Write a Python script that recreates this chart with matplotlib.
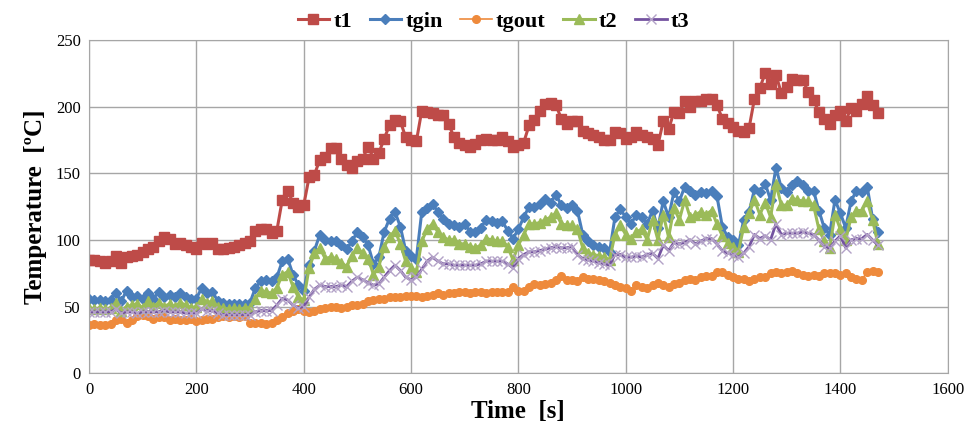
import numpy as np
import matplotlib.pyplot as plt

# time axis, one sample every 10 s
time_s = np.arange(0, 1480, 10)

t1 = [85, 85, 84, 83, 84, 88, 83, 87, 88, 89, 91, 93, 95, 99, 102, 101, 97, 98, 96, 95,
      93, 98, 97, 98, 93, 93, 94, 95, 96, 98, 99, 107, 108, 108, 105, 107, 130, 137, 128, 125,
      126, 147, 149, 160, 162, 169, 169, 161, 156, 154, 159, 161, 170, 161, 165, 176, 186, 190, 189, 177,
      175, 174, 197, 196, 195, 194, 194, 187, 177, 173, 171, 170, 172, 175, 176, 175, 175, 177, 174, 170,
      171, 173, 186, 190, 197, 202, 203, 201, 191, 187, 189, 189, 182, 180, 179, 177, 175, 175, 181, 180,
      176, 177, 181, 179, 177, 176, 171, 189, 183, 196, 195, 204, 200, 204, 204, 206, 206, 201, 191, 188,
      185, 182, 181, 184, 206, 214, 225, 217, 224, 210, 215, 221, 220, 220, 211, 205, 196, 191, 187, 194,
      197, 189, 199, 197, 202, 208, 201, 195]

tgin = [56, 55, 55, 54, 55, 60, 54, 62, 57, 58, 56, 60, 56, 61, 57, 59, 57, 60, 57, 56,
        56, 64, 60, 61, 54, 53, 52, 52, 52, 52, 53, 64, 69, 70, 69, 72, 84, 86, 74, 66,
        62, 81, 92, 104, 100, 99, 99, 96, 93, 99, 106, 102, 96, 82, 87, 106, 116, 121, 110, 92,
        88, 86, 121, 124, 127, 121, 116, 112, 111, 110, 112, 106, 106, 109, 115, 114, 113, 114, 107, 101,
        108, 117, 125, 125, 127, 131, 128, 134, 126, 124, 126, 122, 104, 99, 96, 95, 94, 91, 117, 123,
        117, 112, 119, 117, 112, 122, 109, 129, 117, 136, 129, 140, 137, 134, 136, 135, 137, 133, 110, 102,
        100, 96, 115, 121, 138, 136, 142, 130, 154, 139, 136, 141, 144, 141, 137, 137, 122, 109, 104, 130,
        120, 109, 129, 137, 136, 140, 116, 106]

tgout = [36, 37, 36, 36, 37, 40, 41, 38, 40, 43, 44, 43, 41, 42, 42, 40, 41, 40, 40, 41,
         39, 40, 41, 41, 42, 43, 42, 43, 42, 43, 38, 38, 38, 37, 38, 40, 42, 45, 47, 48,
         47, 46, 47, 48, 49, 50, 50, 49, 50, 51, 51, 52, 54, 55, 56, 56, 57, 57, 57, 58,
         58, 58, 57, 58, 59, 60, 59, 60, 60, 61, 61, 60, 61, 61, 60, 61, 61, 61, 61, 65,
         62, 62, 65, 67, 66, 67, 68, 70, 73, 70, 70, 69, 72, 71, 71, 70, 69, 68, 66, 65,
         64, 62, 66, 65, 64, 66, 68, 66, 65, 67, 68, 70, 71, 70, 72, 73, 73, 76, 76, 74,
         72, 71, 71, 69, 71, 72, 72, 75, 76, 75, 76, 77, 75, 74, 73, 74, 73, 75, 75, 75,
         74, 75, 72, 71, 70, 76, 77, 76]

t2 = [49, 48, 49, 48, 49, 53, 47, 50, 51, 52, 49, 54, 50, 53, 50, 52, 50, 53, 51, 49,
      50, 56, 53, 54, 50, 49, 48, 49, 48, 49, 49, 56, 62, 61, 60, 64, 74, 76, 65, 57,
      55, 79, 90, 94, 86, 87, 86, 83, 80, 88, 94, 90, 86, 74, 80, 95, 102, 107, 97, 84,
      79, 76, 99, 108, 112, 106, 102, 100, 100, 97, 97, 95, 94, 96, 101, 100, 99, 99, 95, 85,
      96, 104, 112, 112, 113, 115, 117, 120, 112, 111, 111, 108, 94, 90, 89, 88, 87, 85, 104, 111,
      104, 101, 106, 108, 100, 115, 100, 119, 102, 124, 115, 130, 117, 119, 121, 119, 122, 112, 103, 98,
      95, 91, 110, 120, 130, 119, 128, 117, 142, 126, 126, 131, 130, 129, 129, 126, 108, 99, 94, 119,
      108, 100, 117, 122, 122, 129, 115, 97]

t3 = [46, 46, 46, 46, 46, 48, 45, 46, 46, 45, 46, 46, 46, 46, 47, 46, 46, 46, 45, 45,
      45, 48, 47, 47, 45, 44, 44, 44, 44, 44, 44, 46, 47, 47, 47, 51, 56, 55, 51, 49,
      50, 57, 63, 66, 65, 65, 65, 66, 65, 69, 72, 70, 68, 66, 67, 72, 77, 81, 77, 72,
      70, 72, 78, 84, 87, 84, 82, 82, 81, 81, 81, 81, 81, 82, 84, 84, 84, 84, 82, 79,
      86, 89, 91, 91, 92, 93, 94, 95, 94, 94, 95, 89, 86, 85, 84, 83, 82, 81, 89, 89,
      87, 87, 88, 87, 89, 90, 86, 96, 92, 98, 97, 98, 100, 97, 99, 101, 101, 97, 92, 90,
      89, 87, 90, 95, 104, 101, 103, 100, 112, 104, 105, 105, 105, 106, 105, 104, 100, 95, 94, 99,
      103, 94, 100, 101, 101, 104, 100, 96]

plt.rcParams['font.family'] = ['Liberation Serif', 'DejaVu Serif']

fig = plt.figure(figsize=(9.68, 4.38), dpi=100)
ax = fig.add_axes([0.092, 0.148, 0.887, 0.761])

ax.plot(time_s, t1, color='#BE4B48', lw=2.2, marker='s', ms=7, label='t1')
ax.plot(time_s, tgin, color='#4A7EBB', lw=2.2, marker='D', ms=5, label='tgin')
ax.plot(time_s, tgout, color='#EE8A3C', lw=1.2, marker='o', ms=5.5, label='tgout')
ax.plot(time_s, t2, color='#9BBB59', lw=2.2, marker='^', ms=7, label='t2')
ax.plot(time_s, t3, color='#7453A0', lw=2, marker='x', ms=7, mec='#B3A2C7', mew=1, label='t3')

ax.set_xlim(0, 1600)
ax.set_ylim(0, 250)
ax.set_xticks(np.arange(0, 1601, 200))
ax.set_yticks(np.arange(0, 251, 50))
ax.tick_params(labelsize=12, length=0, pad=6)
ax.grid(True, color='#A6A6A6', lw=1)
ax.set_axisbelow(True)
for s in ax.spines.values():
    s.set_color('#A6A6A6')

ax.set_xlabel('Time  [s]', fontsize=18, fontweight='bold', labelpad=2)
ax.set_ylabel('Temperature  [ºC]', fontsize=18, fontweight='bold', labelpad=6)

fig.legend(loc='upper center', bbox_to_anchor=(0.51, 1.02), ncol=5, frameon=False,
           prop={'size': 16, 'weight': 'bold'}, handlelength=1.4, handletextpad=0.2,
           columnspacing=0.8, numpoints=1)

fig.savefig('out.png', dpi=100)
